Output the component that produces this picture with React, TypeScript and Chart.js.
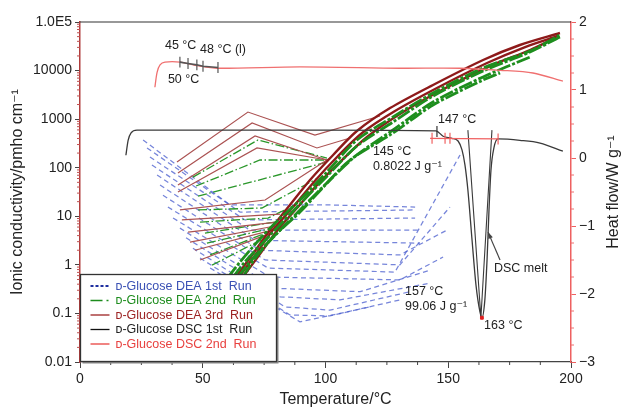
import React, { useEffect, useRef } from "react";
import { Chart, registerables } from "chart.js";
Chart.register(...registerables);

const FONT = '"Liberation Sans", Arial, Helvetica, "DejaVu Sans", sans-serif';
type P = [number, number];

// ---- axes ----
const X_MIN = 0, X_MAX = 200, X_MINOR_STEP = 12.5;
const X_LABELS = [0, 50, 100, 150, 200];
const COND_TICKS = [0.01, 0.1, 1, 10, 100, 1000, 10000, 100000];
const COND_LABELS = ["0.01", "0.1", "1", "10", "100", "1000", "10000", "1.0E5"];
const HEAT_MIN = -3, HEAT_MAX = 2, HEAT_MINOR_STEP = 0.25;
const HEAT_LABELS = [-3, -2, -1, 0, 1, 2];
const TITLES = { x: "Temperature/°C", left: "Ionic conductivity/pmho cm⁻¹", right: "Heat flow/W g⁻¹" };

// ---- DEA 1st run (conductivity vs temperature, one line per frequency) ----
const B1: P[] = [[25.7, 372], [61.1, 17.1], [101.8, 17.1], [136.5, 15.5]];
const B2: P[] = [[27.3, 255], [65.2, 12.2], [136.5, 13.5]];
const B3: P[] = [[28.5, 166], [67.2, 8.4], [136.5, 9.2]];
const B4: P[] = [[29.3, 114], [69.2, 5.2], [138.5, 5.2]];
const B5: P[] = [[31.4, 71], [71.3, 3.2], [138.5, 2.8]];
const B6: P[] = [[32.6, 44], [73.3, 2.0], [130.3, 1.6], [149.5, 5.2]];
const B7: P[] = [[33.8, 27], [75.4, 1.26], [130.3, 1.0], [150.7, 15.5]];
const B8: P[] = [[35.8, 15.5], [76.6, 0.86], [128.3, 0.71], [154.8, 183]];
const B9: P[] = [[37.9, 9.2], [77.4, 0.56], [130.3, 0.49], [147.9, 1.45]];
const B10: P[] = [[40.7, 5.7], [79.4, 0.33], [114.1, 0.28], [142.6, 0.78]];
const B11: P[] = [[43.2, 3.6], [81.5, 0.22], [105.9, 0.19], [142.6, 0.42]];
const B12: P[] = [[46.0, 2.2], [83.5, 0.136], [101.8, 0.117], [134.4, 0.28]];
const B13: P[] = [[48.9, 1.38], [85.5, 0.093], [101.8, 0.089], [130.3, 0.19]];
const B14: P[] = [[53.0, 0.86], [89.6, 0.067], [118.1, 0.136]];
const DEA1 = [B1, B2, B3, B4, B5, B6, B7, B8, B9, B10, B11, B12, B13, B14];

// ---- DEA 2nd run ----
const G1: P[] = [[46.0, 64], [72.5, 372], [100.6, 158]];
const G2: P[] = [[47.3, 42], [73.3, 144], [100.6, 144]];
const G3: P[] = [[48.1, 26], [100.6, 131]];
const G4: P[] = [[48.1, 13.5], [74.1, 14.8], [96.9, 61]];
const G5: P[] = [[48.9, 7.6], [76.6, 9.2], [87.6, 17.1]];
const G6: P[] = [[50.9, 4.5], [79.4, 7.6]];
const G7: P[] = [[51.7, 2.8], [78.2, 5.7]];
const G8: P[] = [[53.0, 1.6], [76.6, 4.7]];
const G9: P[] = [[53.8, 0.99], [75.4, 3.6]];
const DEA2_FAN = [G1, G2, G3, G4, G5, G6, G7, G8, G9];
const GM1: P[] = [[55.0, 0.24], [65.2, 1.15], [77.4, 5.7], [89.6, 21.6], [100.6, 82], [112.8, 372], [127.5, 1110], [143.8, 3450], [164.2, 11300], [183.3, 25300], [195.5, 54000]];
const GM2: P[] = [[57.0, 0.24], [67.2, 1.15], [78.6, 4.7], [89.6, 17.9], [100.6, 67], [112.8, 280], [127.5, 873], [143.8, 2990], [164.2, 9800], [183.3, 24100], [195.5, 49100]];
const GM3: P[] = [[59.1, 0.24], [69.2, 1.15], [80.7, 4.7], [91.6, 17.1], [101.8, 56], [112.8, 183], [127.5, 597], [143.8, 2250], [164.2, 7400], [183.3, 19000]];
const GM4: P[] = [[62.0, 0.24], [70.0, 1.1], [78.6, 3.7], [89.6, 12.2], [100.6, 48], [110.0, 144], [127.5, 519], [143.8, 1950], [164.2, 6400], [171.1, 8900]];
const DEA2_MAIN = [GM1, GM2, GM3, GM4];

// ---- DEA 3rd run ----
const R1: P[] = [[39.5, 131], [68.4, 1400], [95.7, 471], [122.2, 1160]];
const R2: P[] = [[39.9, 78], [70.1, 832], [96.5, 255], [110.0, 409]];
const R3: P[] = [[39.9, 44], [71.3, 450], [100.6, 144]];
const R4: P[] = [[39.9, 31.6], [72.1, 255], [100.6, 144]];
const R5: P[] = [[40.7, 13.5], [75.4, 21.6], [101.8, 158]];
const R6: P[] = [[41.5, 8.4], [81.5, 11.1]];
const R7: P[] = [[44.0, 4.7], [80.2, 7.6]];
const R8: P[] = [[44.8, 2.95], [79.4, 6.3]];
const R9: P[] = [[46.8, 2.0], [78.2, 5.2]];
const R10: P[] = [[48.9, 1.26], [76.6, 4.3]];
const DEA3_FAN = [R1, R2, R3, R4, R5, R6, R7, R8, R9, R10];
const RM1: P[] = [[59.1, 0.28], [69.2, 1.38], [77.4, 5.2], [85.5, 17.1], [93.7, 56], [103.1, 183], [112.8, 570], [126.3, 1690], [143.8, 5050], [164.2, 16500], [179.2, 33600], [195.5, 59400]];
const RM2: P[] = [[60.3, 0.28], [70.5, 1.38], [78.6, 5.2], [86.8, 15.5], [95.3, 51], [104.7, 166], [114.9, 519], [128.3, 1470], [145.4, 4380], [165.8, 14300], [181.3, 30500], [194.7, 51500]];
const RM3: P[] = [[61.9, 0.28], [72.1, 1.38], [80.2, 5.0], [88.4, 14.8], [96.9, 46], [106.7, 144], [116.9, 429], [130.3, 1280], [146.6, 3800], [167.0, 12400], [183.3, 26500], [193.5, 46900]];
const DEA3_MAIN = [RM1, RM2, RM3];

// ---- DSC (heat flow, right axis) ----
const DSC1: P[] = [[18.7, 0.04], [19.6, 0.26], [20.8, 0.37], [23.2, 0.41], [48.9, 0.41], [100.2, 0.41], [145.0, 0.40], [147.9, 0.32], [151.5, 0.29], [154.0, 0.25], [155.6, 0.12], [156.8, -0.10], [158.0, -0.47], [159.7, -1.21], [161.3, -1.87], [162.9, -2.26], [163.7, -2.35], [164.9, -2.09], [165.8, -1.50], [166.6, -0.76], [167.4, -0.18], [168.6, 0.15], [170.3, 0.28], [179.2, 0.26], [187.4, 0.22], [196.7, 0.10]];
const DSC1_DROP: P[] = [[158.0, 0.41], [163.3, -2.35], [167.8, 0.41]];
const DSC2: P[] = [[30.5, 1.04], [31.4, 1.26], [32.6, 1.37], [34.6, 1.41], [40.7, 1.41], [48.9, 1.35], [56.2, 1.32], [89.6, 1.34], [130.3, 1.32], [154.8, 1.32], [171.1, 1.29], [184.5, 1.25], [196.7, 1.13]];
const TG_SEGMENT: P[] = [[40.7, 1.41], [44.0, 1.39], [47.6, 1.37], [50.1, 1.35], [56.2, 1.33]];
const MELT_BASE: P[] = [[142.6, 0.29], [170.3, 0.28]];
const MELT_MARKS: P[] = [[143.4, 0.29], [148.7, 0.29], [150.7, 0.29], [170.3, 0.28]];
const ONSET_MARK: P[] = [[145.4, 0.41]];
const PEAK: P[] = [[163.7, -2.35]];

const NOTES = [
  { text: "45 °C", x: 34.6, y: 1.66 },
  { text: "48 °C (l)", x: 48.9, y: 1.6 },
  { text: "50 °C", x: 35.8, y: 1.15 },
  { text: "147 °C", x: 145.8, y: 0.57 },
  { text: "145 °C", x: 119.3, y: 0.09 },
  { text: "0.8022 J g⁻¹", x: 119.3, y: -0.13 },
  { text: "157 °C", x: 132.4, y: -1.97 },
  { text: "99.06 J g⁻¹", x: 132.4, y: -2.19 },
  { text: "163 °C", x: 164.6, y: -2.46 },
  { text: "DSC melt", x: 168.6, y: -1.62 },
];
const ARROW = { from: [171.1, -1.5] as P, to: [166.2, -1.09] as P };

const LEGEND = [
  { label: "ᴅ-Glucose DEA 1st  Run", text: "#3a50b4", line: "#1f2fa0", dash: [3, 2], width: 2 },
  { label: "ᴅ-Glucose DEA 2nd  Run", text: "#1d8c1d", line: "#1d8c1d", dash: [12, 4, 2, 20], width: 1.5 },
  { label: "ᴅ-Glucose DEA 3rd  Run", text: "#9c2222", line: "#9c2222", dash: [], width: 1.3 },
  { label: "ᴅ-Glucose DSC 1st  Run", text: "#222222", line: "#111111", dash: [], width: 1.3 },
  { label: "ᴅ-Glucose DSC 2nd  Run", text: "#e8413f", line: "#e8413f", dash: [], width: 1.3 },
];

const xy = (a: P[]) => a.map(([x, y]) => ({ x, y }));
const ds = (data: P[], axis: string, color: string, width: number, dash: number[], order: number, extra: any = {}) => ({
  data: xy(data), yAxisID: axis, borderColor: color, backgroundColor: color, borderWidth: width,
  borderDash: dash, pointRadius: 0, tension: 0, fill: false, order, ...extra,
});

const decor = {
  id: "decor",
  afterDraw(chart: any) {
    const { ctx, chartArea: ca, scales } = chart;
    const x = scales.x, yL = scales.yL, yR = scales.yR;
    ctx.save();
    // top frame
    ctx.strokeStyle = "#333"; ctx.lineWidth = 1.2;
    ctx.beginPath(); ctx.moveTo(ca.left, ca.top); ctx.lineTo(ca.right, ca.top); ctx.stroke();
    // minor ticks
    ctx.lineWidth = 1;
    ctx.strokeStyle = "#c05050";
    for (let d = -2; d <= 4; d++) for (let m = 2; m <= 9; m++) {
      const py = yL.getPixelForValue(m * Math.pow(10, d));
      ctx.beginPath(); ctx.moveTo(ca.left - 3, py); ctx.lineTo(ca.left, py); ctx.stroke();
    }
    ctx.strokeStyle = "#444";
    for (let v = X_MIN; v <= X_MAX; v += X_MINOR_STEP) {
      if (X_LABELS.includes(v)) continue;
      const px = x.getPixelForValue(v);
      ctx.beginPath(); ctx.moveTo(px, ca.bottom); ctx.lineTo(px, ca.bottom + 3); ctx.stroke();
    }
    ctx.strokeStyle = "#ee7070";
    for (let v = HEAT_MIN; v <= HEAT_MAX; v += HEAT_MINOR_STEP) {
      if (HEAT_LABELS.includes(v)) continue;
      const py = yR.getPixelForValue(v);
      ctx.beginPath(); ctx.moveTo(ca.right, py); ctx.lineTo(ca.right + 3, py); ctx.stroke();
    }
    // axis titles
    const midY = (ca.top + ca.bottom) / 2;
    ctx.fillStyle = "#222"; ctx.font = "16px " + FONT; ctx.textAlign = "center"; ctx.textBaseline = "middle";
    ctx.fillText(TITLES.x, (ca.left + ca.right) / 2 + 10, ca.bottom + 38);
    ctx.save(); ctx.translate(18, midY); ctx.rotate(-Math.PI / 2); ctx.fillText(TITLES.left, 0, 0); ctx.restore();
    ctx.save(); ctx.translate(ca.right + 43, midY); ctx.rotate(-Math.PI / 2); ctx.fillText(TITLES.right, 0, 0); ctx.restore();
    // annotations
    ctx.fillStyle = "#222"; ctx.font = "12.5px " + FONT; ctx.textBaseline = "middle"; ctx.textAlign = "left";
    NOTES.forEach((n) => ctx.fillText(n.text, x.getPixelForValue(n.x), yR.getPixelForValue(n.y)));
    // arrow
    const ax1 = x.getPixelForValue(ARROW.from[0]), ay1 = yR.getPixelForValue(ARROW.from[1]);
    const ax2 = x.getPixelForValue(ARROW.to[0]), ay2 = yR.getPixelForValue(ARROW.to[1]);
    ctx.strokeStyle = "#444"; ctx.lineWidth = 1.2;
    ctx.beginPath(); ctx.moveTo(ax1, ay1); ctx.lineTo(ax2, ay2); ctx.stroke();
    const ang = Math.atan2(ay2 - ay1, ax2 - ax1);
    ctx.fillStyle = "#444"; ctx.beginPath();
    ctx.moveTo(ax2, ay2);
    ctx.lineTo(ax2 - 7 * Math.cos(ang - 0.35), ay2 - 7 * Math.sin(ang - 0.35));
    ctx.lineTo(ax2 - 7 * Math.cos(ang + 0.35), ay2 - 7 * Math.sin(ang + 0.35));
    ctx.closePath(); ctx.fill();
    // legend
    const lx = ca.left + 0.5, lw = 196, lh = 87, ly = ca.bottom - lh - 0.5;
    ctx.fillStyle = "#888"; ctx.fillRect(lx + 2, ly + 2, lw, lh);
    ctx.fillStyle = "#fff"; ctx.fillRect(lx, ly, lw, lh);
    ctx.strokeStyle = "#333"; ctx.lineWidth = 1.3; ctx.strokeRect(lx, ly, lw, lh);
    ctx.font = "12.5px " + FONT;
    LEGEND.forEach((r, i) => {
      const ry = ly + 11.5 + i * 14.5;
      ctx.strokeStyle = r.line; ctx.lineWidth = r.width; ctx.setLineDash(r.dash);
      ctx.beginPath(); ctx.moveTo(lx + 10, ry); ctx.lineTo(lx + 29, ry); ctx.stroke();
      ctx.setLineDash([]);
      ctx.fillStyle = r.text; ctx.fillText(r.label, lx + 35, ry + 0.5);
    });
    ctx.restore();
  },
};

export default function App() {
  const ref = useRef<HTMLCanvasElement>(null);
  useEffect(() => {
    const datasets: any[] = [];
    DEA1.forEach((l) => datasets.push(ds(l, "yL", "rgba(72,92,205,0.75)", 1.25, [5, 3.5], 6)));
    DEA2_FAN.forEach((l) => datasets.push(ds(l, "yL", "#2a972a", 1.3, [9, 2.5, 1.5, 2.5], 5)));
    DEA3_FAN.forEach((l) => datasets.push(ds(l, "yL", "#ab5252", 1.2, [], 4)));
    DEA3_MAIN.forEach((l) => datasets.push(ds(l, "yL", "#8e1a1a", 2.4, [], 3, { tension: 0.3 })));
    DEA2_MAIN.forEach((l) => datasets.push(ds(l, "yL", "#1e8e1e", 2.8, [14, 2, 3, 2], 2, { tension: 0.3 })));
    datasets.push(ds(DSC2, "yR", "#f07070", 1.3, [], 1, { tension: 0.3 }));
    datasets.push(ds(TG_SEGMENT, "yR", "#555", 1.6, [], 0));
    datasets.push(ds(DSC1, "yR", "#3a3a3a", 1.3, [], 1, { tension: 0.25, cubicInterpolationMode: "monotone" }));
    datasets.push(ds(DSC1_DROP, "yR", "#3a3a3a", 1.1, [], 1));
    datasets.push(ds(MELT_BASE, "yR", "#f06060", 1.3, [], 0));
    TG_SEGMENT.forEach(([tx, ty]) => datasets.push(ds([[tx, ty - 0.08], [tx, ty + 0.08]], "yR", "#555", 1.2, [], 0)));
    MELT_MARKS.forEach(([tx, ty]) => datasets.push(ds([[tx, ty - 0.08], [tx, ty + 0.08]], "yR", "#f06060", 1.2, [], 0)));
    ONSET_MARK.forEach(([tx, ty]) => datasets.push(ds([[tx, ty - 0.1], [tx, ty + 0.06]], "yR", "#333", 1.2, [], 0)));
    datasets.push(ds(PEAK, "yR", "#e02020", 1, [], 0, { showLine: false, pointRadius: 2, pointStyle: "rect" }));

    const tickFont = { family: FONT, size: 14 };
    const chart = new Chart(ref.current as HTMLCanvasElement, {
      type: "line",
      data: { datasets },
      options: {
        responsive: false, animation: false, devicePixelRatio: 1, events: [],
        layout: { padding: { top: 22, left: 0, right: 0, bottom: 0 } },
        plugins: { legend: { display: false }, tooltip: { enabled: false } },
        scales: {
          x: {
            type: "linear", min: X_MIN, max: X_MAX,
            afterBuildTicks: (s: any) => { s.ticks = X_LABELS.map((v) => ({ value: v })); },
            ticks: { font: tickFont, color: "#222", autoSkip: false, maxRotation: 0, padding: 3 },
            grid: { drawOnChartArea: false, tickLength: 6, color: "#444" },
            border: { color: "#444", width: 1.2 },
            afterFit: (s: any) => { s.height = 50; },
          },
          yL: {
            type: "logarithmic", position: "left", min: 0.01, max: 100000,
            afterBuildTicks: (s: any) => { s.ticks = COND_TICKS.map((v) => ({ value: v })); },
            ticks: {
              font: tickFont, color: "#222", autoSkip: false, padding: 3,
              callback: (v: any) => { const i = COND_TICKS.indexOf(Number(v)); return i >= 0 ? COND_LABELS[i] : ""; },
            },
            grid: { drawOnChartArea: false, tickLength: 5, color: "#444" },
            border: { color: "#b03c3c", width: 1.5 },
            afterFit: (s: any) => { s.width = 80; },
          },
          yR: {
            type: "linear", position: "right", min: HEAT_MIN, max: HEAT_MAX,
            afterBuildTicks: (s: any) => { s.ticks = HEAT_LABELS.map((v) => ({ value: v })); },
            ticks: {
              font: tickFont, color: "#222", autoSkip: false, padding: 3,
              callback: (v: any) => (Number(v) < 0 ? "−" + Math.abs(Number(v)) : String(v)),
            },
            grid: { drawOnChartArea: false, tickLength: 5, color: "#ee6060" },
            border: { color: "#ee6060", width: 1.5 },
            afterFit: (s: any) => { s.width = 53; },
          },
        },
      } as any,
      plugins: [decor],
    });
    return () => chart.destroy();
  }, []);
  return (
    <div style={{ position: "absolute", left: 0, top: 0, width: 624, height: 412, background: "#fff" }}>
      <canvas ref={ref} width={624} height={412} style={{ display: "block" }} />
    </div>
  );
}
